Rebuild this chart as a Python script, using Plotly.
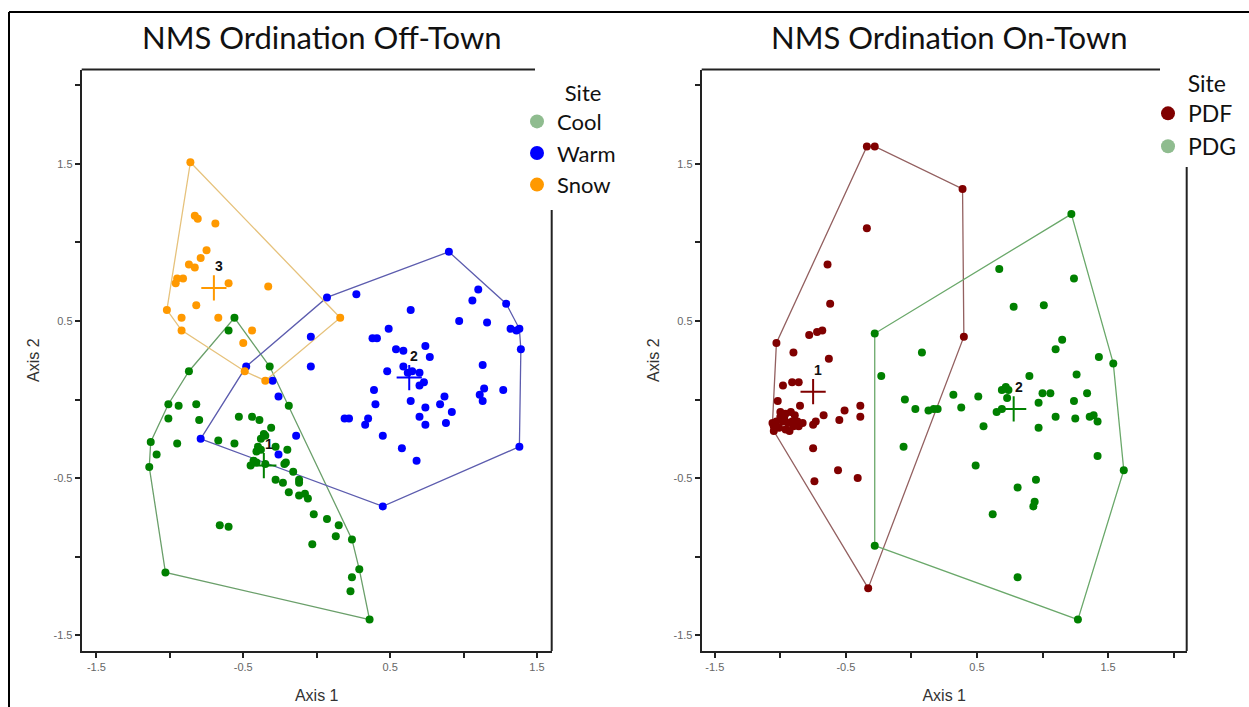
import plotly.graph_objects as go

# ---------------- Off-Town (left panel) ----------------
cool_x = [-0.56, -0.60, -0.32, -0.87, -0.19, -1.01, -0.94, -0.82, -1.01, -0.80, -0.53, -0.44, -0.39, -0.31,
          -0.35, -0.38, -1.13, -0.95, -0.67, -0.56, -0.41, -0.38, -0.28, -0.20, -1.09, -0.45, -0.41, -0.35,
          -0.21, -0.22, -1.14, -0.16, -0.12, -0.12, -0.28, -0.23, -0.19, -0.12, -0.08, -0.06, -0.02, 0.07,
          0.15, 0.13, 0.24, -0.03, -0.66, -0.60, 0.29, 0.24, 0.23, -1.03, 0.36, -0.36, -0.40, -0.43]
cool_y = [0.52, 0.44, 0.21, 0.18, -0.04, -0.03, -0.04, -0.03, -0.12, -0.13, -0.11, -0.11, -0.13, -0.18,
          -0.23, -0.25, -0.27, -0.28, -0.26, -0.28, -0.33, -0.32, -0.30, -0.32, -0.35, -0.42, -0.40, -0.41,
          -0.40, -0.41, -0.43, -0.46, -0.51, -0.53, -0.51, -0.53, -0.59, -0.61, -0.60, -0.63, -0.73, -0.76,
          -0.80, -0.87, -0.89, -0.92, -0.80, -0.81, -1.08, -1.13, -1.22, -1.10, -1.40, -0.22, -0.30, -0.39]

warm_x = [0.90, 0.07, 0.27, 1.10, 1.06, 1.29, 0.64, 0.97, 1.16, 1.32, 1.36, 1.38, 0.49, 0.38, 0.41, -0.04,
          1.39, 0.54, 0.59, 0.74, 0.77, 1.13, -0.04, -0.48, 0.59, 0.48, 0.62, 0.65, 0.70, 0.73, 0.70, 0.39,
          1.14, 1.11, 1.13, 1.27, 0.87, -0.26, 0.40, 0.64, 0.74, 0.84, 0.92, 0.70, 0.74, 0.88, 0.19, 0.22,
          0.35, 0.33, -0.14, 0.45, 0.58, 0.68, -0.26, -0.79, 1.38, 0.45, -0.30]
warm_y = [0.94, 0.65, 0.67, 0.70, 0.63, 0.61, 0.57, 0.50, 0.49, 0.45, 0.44, 0.45, 0.45, 0.39, 0.39, 0.40,
          0.32, 0.32, 0.31, 0.34, 0.27, 0.22, 0.21, 0.21, 0.21, 0.18, 0.17, 0.18, 0.17, 0.11, 0.09, 0.06,
          0.07, 0.03, -0.01, 0.06, 0.02, 0.02, -0.03, -0.01, -0.05, -0.03, -0.08, -0.11, -0.16, -0.15, -0.12,
          -0.12, -0.12, -0.16, -0.23, -0.23, -0.31, -0.39, -0.35, -0.25, -0.30, -0.68, 0.12]

snow_x = [-0.86, -0.83, -0.81, -0.69, -0.75, -0.79, -0.87, -0.83, -0.91, -0.95, -0.96, -0.60, -0.33, -1.02,
          -0.82, -0.92, -0.67, 0.16, -0.92, -0.44, -0.50, -0.49, -0.35]
snow_y = [1.51, 1.17, 1.15, 1.12, 0.95, 0.90, 0.86, 0.84, 0.77, 0.77, 0.74, 0.74, 0.72, 0.57, 0.60, 0.52,
          0.52, 0.52, 0.44, 0.44, 0.36, 0.18, 0.12]

off_cent_x = [-0.36, 0.63, -0.70]
off_cent_y = [-0.42, 0.14, 0.71]
off_cent_lab = ["1", "2", "3"]

# ---------------- On-Town (right panel) ----------------
pdf_x = [-0.34, -0.28, 0.39, -0.34, -0.64, -0.62, -1.03, -0.90, -0.78, -0.72, -0.68, 0.40, -0.63, -0.98,
         -0.91, -0.86, -1.02, -0.85, -0.39, -0.39, -0.51, -0.67, -0.55, -0.73, -0.75, -1.00, -0.96, -0.92,
         -0.89, -1.03, -0.98, -0.94, -0.91, -0.87, -0.83, -1.05, -1.01, -0.96, -1.05, -0.93, -0.86, -1.00,
         -0.75, -0.56, -0.74, -0.41, -0.33, -1.06, -0.97, -0.90]
pdf_y = [1.61, 1.61, 1.34, 1.09, 0.86, 0.61, 0.36, 0.30, 0.41, 0.43, 0.44, 0.40, 0.26, 0.09, 0.11, 0.11,
         -0.01, -0.04, -0.04, -0.11, -0.07, -0.10, -0.13, -0.14, -0.16, -0.08, -0.09, -0.08, -0.10, -0.14,
         -0.14, -0.15, -0.14, -0.14, -0.15, -0.17, -0.18, -0.19, -0.20, -0.20, -0.17, -0.11, -0.31, -0.45,
         -0.52, -0.50, -1.20, -0.15, -0.12, -0.17]

pdg_x = [1.22, 0.67, 1.24, 0.78, 1.01, -0.28, 1.15, 1.10, 0.08, 1.43, 1.54, -0.23, 0.90, 1.26, 0.69, 0.72,
         0.74, 0.73, 1.00, 1.06, 0.32, 0.51, 1.34, -0.05, 1.24, 0.97, 0.03, 0.13, 0.17, 0.20, 0.38, 0.65,
         0.69, 1.10, 1.25, 1.36, 1.39, 1.42, 0.55, 0.97, -0.06, 1.42, 0.49, 1.62, 0.95, 0.81, 0.94, 0.93,
         0.62, -0.28, 0.81, 1.27]
pdg_y = [1.18, 0.83, 0.77, 0.59, 0.60, 0.42, 0.38, 0.32, 0.30, 0.27, 0.23, 0.15, 0.15, 0.16, 0.06, 0.08,
         0.06, 0.01, 0.04, 0.04, 0.03, 0.02, 0.04, 0.00, -0.01, -0.02, -0.06, -0.07, -0.06, -0.06, -0.05,
         -0.08, -0.06, -0.11, -0.12, -0.11, -0.10, -0.14, -0.17, -0.18, -0.30, -0.36, -0.42, -0.45, -0.51,
         -0.56, -0.65, -0.68, -0.73, -0.93, -1.13, -1.40]

on_cent_x = [-0.75, 0.78]
on_cent_y = [0.05, -0.06]
on_cent_lab = ["1", "2"]

# ---------------- ticks ----------------
x_ticks_off = [-1.5, -1.0, -0.5, 0.0, 0.5, 1.0, 1.5]
x_text_off = ["-1.5", "", "-0.5", "", "0.5", "", "1.5"]
x_ticks_on = [-1.5, -1.0, -0.5, 0.0, 0.5, 1.0, 1.5, 2.0]
x_text_on = ["-1.5", "", "-0.5", "", "0.5", "", "1.5", ""]
y_ticks = [-1.5, -1.0, -0.5, 0.0, 0.5, 1.0, 1.5, 2.0]
y_text = ["-1.5", "", "-0.5", "", "0.5", "", "1.5", ""]


def convex_hull(xs, ys):
    pts = sorted(set(zip(xs, ys)))

    def cross(o, a, b):
        return (a[0] - o[0]) * (b[1] - o[1]) - (a[1] - o[1]) * (b[0] - o[0])

    lower = []
    for p in pts:
        while len(lower) >= 2 and cross(lower[-2], lower[-1], p) <= 0:
            lower.pop()
        lower.append(p)
    upper = []
    for p in reversed(pts):
        while len(upper) >= 2 and cross(upper[-2], upper[-1], p) <= 0:
            upper.pop()
        upper.append(p)
    h = lower[:-1] + upper[:-1]
    h.append(h[0])
    return [p[0] for p in h], [p[1] for p in h]


fig = go.Figure()

groups_off = [
    ("Cool", cool_x, cool_y, "#008000", "#6a9f6a", "#8FBC8F"),
    ("Warm", warm_x, warm_y, "#0000FF", "#5c5cae", "#0000FF"),
    ("Snow", snow_x, snow_y, "#FF9900", "#e6c27c", "#FF9900"),
]
groups_on = [
    ("PDF", pdf_x, pdf_y, "#800000", "#936060", "#800000"),
    ("PDG", pdg_x, pdg_y, "#008000", "#6aa86a", "#8FBC8F"),
]

for groups, xa, ya, leg in [(groups_off, "x", "y", "legend"), (groups_on, "x2", "y2", "legend2")]:
    # hulls
    for name, gx, gy, pc, hc, lc in groups:
        hx, hy = convex_hull(gx, gy)
        fig.add_trace(go.Scatter(x=hx, y=hy, mode="lines", line=dict(color=hc, width=1.3),
                                 xaxis=xa, yaxis=ya, showlegend=False, hoverinfo="skip"))
    # points
    for name, gx, gy, pc, hc, lc in groups:
        fig.add_trace(go.Scatter(x=gx, y=gy, mode="markers", marker=dict(color=pc, size=8),
                                 xaxis=xa, yaxis=ya, showlegend=False, name=name))
    # legend entries
    for name, gx, gy, pc, hc, lc in groups:
        fig.add_trace(go.Scatter(x=[None], y=[None], mode="markers", marker=dict(color=lc, size=14),
                                 xaxis=xa, yaxis=ya, name=name, legend=leg, showlegend=True))

# centroids
for cx, cy, labs, cols, xa, ya in [
    (off_cent_x, off_cent_y, off_cent_lab, ["#008000", "#0000FF", "#FF9900"], "x", "y"),
    (on_cent_x, on_cent_y, on_cent_lab, ["#800000", "#008000"], "x2", "y2"),
]:
    fig.add_trace(go.Scatter(x=cx, y=cy, mode="markers",
                             marker=dict(symbol="cross-thin", size=18, color=cols,
                                         line=dict(color=cols, width=2)),
                             xaxis=xa, yaxis=ya, showlegend=False, hoverinfo="skip"))
    for x, y, t in zip(cx, cy, labs):
        fig.add_annotation(x=x, y=y, xref=xa, yref=ya, text="<b>" + t + "</b>", showarrow=False,
                           xshift=5, yshift=22, font=dict(family="Liberation Sans, Arial", size=14, color="#111"))

W, H = 1249, 707
axis_common = dict(showgrid=False, zeroline=False, showline=True, linecolor="#222", linewidth=2,
                   ticks="outside", ticklen=5, tickwidth=1.5, tickcolor="#222",
                   tickfont=dict(family="Liberation Sans, Arial", size=11, color="#666"))
ydom = [1 - 651 / H, 1 - 69.5 / H]
title_font = dict(family="Liberation Sans, Arial", size=16, color="#333")
pad = "&nbsp;"

fig.update_layout(
    width=W, height=H, margin=dict(l=0, r=0, t=0, b=0, autoexpand=False),
    paper_bgcolor="white", plot_bgcolor="white",
    xaxis=dict(domain=[81.7 / W, 551.7 / W], range=[-1.6, 1.6], tickvals=x_ticks_off, ticktext=x_text_off,
               anchor="y", title=dict(text="Axis 1", standoff=18, font=title_font), **axis_common),
    yaxis=dict(domain=ydom, range=[-1.6, 2.1], tickvals=y_ticks, ticktext=y_text, anchor="x",
               title=dict(text="Axis 2", standoff=10, font=title_font), **axis_common),
    xaxis2=dict(domain=[701.7 / W, 1186.7 / W], range=[-1.6, 2.1], tickvals=x_ticks_on, ticktext=x_text_on,
                anchor="y2", title=dict(text="Axis 1", standoff=18, font=title_font), **axis_common),
    yaxis2=dict(domain=ydom, range=[-1.6, 2.1], tickvals=y_ticks, ticktext=y_text, anchor="x2",
                title=dict(text="Axis 2", standoff=10, font=title_font), **axis_common),
    legend=dict(x=517 / W, y=1 - 72 / H, xanchor="left", yanchor="top",
                title=dict(text=pad * 5 + "Site", side="top center",
                           font=dict(family="Lato", size=22, color="#111")),
                font=dict(family="Lato", size=22, color="#111"), bgcolor="rgba(0,0,0,0)",
                tracegroupgap=0, itemsizing="trace"),
    legend2=dict(x=1148 / W, y=1 - 62 / H, xanchor="left", yanchor="top",
                 title=dict(text=pad * 4 + "Site", side="top center",
                            font=dict(family="Lato", size=23, color="#111")),
                 font=dict(family="Lato", size=23, color="#111"), bgcolor="rgba(0,0,0,0)",
                 tracegroupgap=0, itemsizing="trace"),
    showlegend=True,
)

# titles
fig.add_annotation(x=322 / W, y=1 - 37 / H, xref="paper", yref="paper", text="NMS Ordination Off-Town",
                   showarrow=False, font=dict(family="Lato", size=31, color="#111"),
                   xanchor="center", yanchor="middle")
fig.add_annotation(x=949 / W, y=1 - 37 / H, xref="paper", yref="paper", text="NMS Ordination On-Town",
                   showarrow=False, font=dict(family="Lato", size=31, color="#111"),
                   xanchor="center", yanchor="middle")

# partial frame lines (top and right) interrupted by legends
shapes = [
    dict(type="line", xref="x domain", yref="y domain", x0=0, x1=(535 - 81.7) / 470, y0=1, y1=1,
         line=dict(color="#222", width=2)),
    dict(type="line", xref="x domain", yref="y domain", x0=1, x1=1, y0=0, y1=(651 - 210) / 581.5,
         line=dict(color="#222", width=2)),
    dict(type="line", xref="x2 domain", yref="y2 domain", x0=0, x1=(1160 - 701.7) / 485, y0=1, y1=1,
         line=dict(color="#222", width=2)),
    dict(type="line", xref="x2 domain", yref="y2 domain", x0=1, x1=1, y0=0, y1=(651 - 167) / 581.5,
         line=dict(color="#222", width=2)),
    # outer figure border
    dict(type="line", xref="paper", yref="paper", x0=9 / W, x1=1, y0=1 - 12 / H, y1=1 - 12 / H,
         line=dict(color="black", width=2)),
    dict(type="line", xref="paper", yref="paper", x0=9 / W, x1=9 / W, y0=0, y1=1 - 12 / H,
         line=dict(color="black", width=2)),
]
fig.update_layout(shapes=shapes)

fig.write_html("out.html", config={"displayModeBar": False},
               post_script="document.body.style.margin='0px';document.body.style.overflow='hidden';")
